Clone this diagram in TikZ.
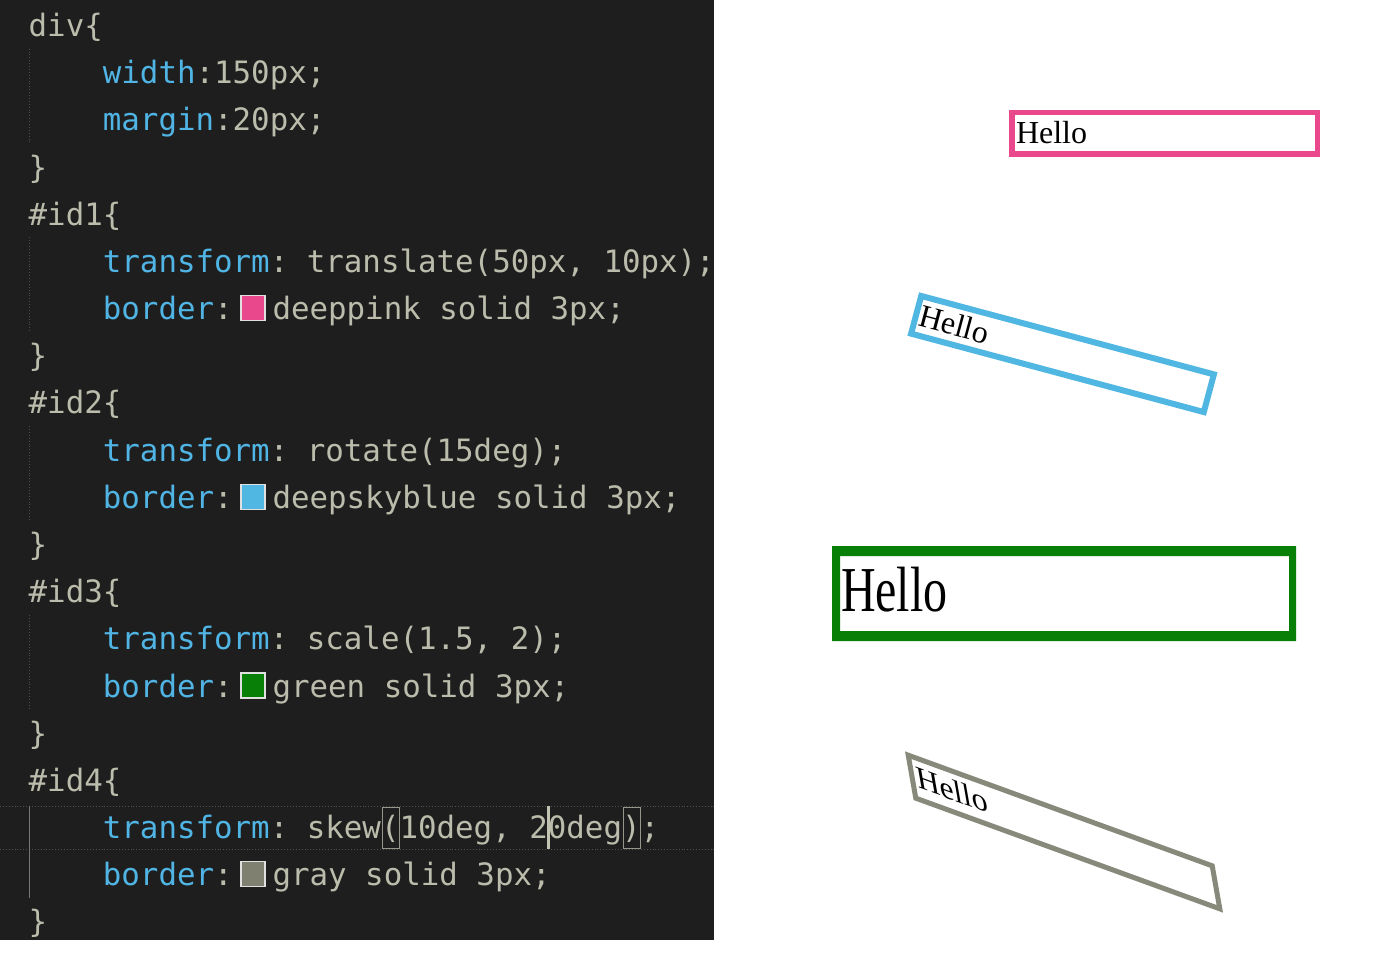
\documentclass[tikz,border=0pt]{standalone}
\usepackage{fontspec}
\setmainfont{Liberation Serif}
\newfontfamily\codefont{DejaVu Sans Mono}
\definecolor{bgdark}{RGB}{30,30,30}
\definecolor{cblue}{RGB}{80,180,228}
\definecolor{cgray}{RGB}{188,188,172}
\definecolor{cpink}{RGB}{234,72,140}
\definecolor{csky}{RGB}{80,182,226}
\definecolor{cgreen}{RGB}{8,128,8}
\definecolor{cgrayb}{RGB}{135,137,122}
\definecolor{cguide}{RGB}{80,80,80}
\definecolor{cguideact}{RGB}{120,120,115}
\definecolor{cswgray}{RGB}{128,128,112}
\tikzset{
  code/.style={anchor=base west, inner sep=0pt, outer sep=0pt,
    font=\codefont\fontsize{30.8}{36}\selectfont\frenchspacing, text=cgray},
  hello/.style={anchor=base west, inner sep=0pt, outer sep=0pt,
    font=\fontsize{32}{38}\selectfont, text=black},
  swatch/.style={draw=white!88!black, line width=1.3pt},
  guide/.style={cguide, line width=0.9pt, dotted},
  actguide/.style={cguideact, line width=1.2pt},
  hiline/.style={cguide, line width=0.9pt, dotted},
  matchbox/.style={draw=cgray!80!black, line width=1pt},
}
\newcommand{\pn}[1]{\textcolor{cblue}{#1}}
\begin{document}
\begin{tikzpicture}[x=1pt,y=-1pt]
\useasboundingbox (0,0) rectangle (1400,979);
\fill[white] (0,0) rectangle (1400,979);
% editor panel
\fill[bgdark] (0,0) rectangle (714,940);
\begin{scope}
\clip (0,0) rectangle (714,940);
% current line highlight
\draw[hiline] (0,806) -- (714,806);
\draw[hiline] (0,849) -- (714,849);
% indent guides
\draw[guide] (29.5,48.7) -- (29.5,142.9);
\draw[guide] (29.5,237.4) -- (29.5,331.6);
\draw[guide] (29.5,426.1) -- (29.5,520.3);
\draw[guide] (29.5,614.8) -- (29.5,709);
\draw[actguide] (29.5,806) -- (29.5,897.7);
% code lines
\node[code] (l0) at (28.7,36.5) {div\{};
\node[code] (l1) at (102.9,83.68) {\pn{width}:150px;};
\node[code] (l2) at (102.9,130.86) {\pn{margin}:20px;};
\node[code] (l3) at (28.7,178.04) {\}};
\node[code] (l4) at (28.7,225.22) {\#id1\{};
\node[code] (l5) at (102.9,272.4) {\pn{transform}: translate(50px, 10px);};
\node[code] (l6) at (102.9,319.58) {\pn{border}:};
\node[code] (v6) at (272.5,319.58) {deeppink solid 3px;};
\node[code] (l7) at (28.7,366.76) {\}};
\node[code] (l8) at (28.7,413.94) {\#id2\{};
\node[code] (l9) at (102.9,461.12) {\pn{transform}: rotate(15deg);};
\node[code] (l10) at (102.9,508.3) {\pn{border}:};
\node[code] (v10) at (272.5,508.3) {deepskyblue solid 3px;};
\node[code] (l11) at (28.7,555.48) {\}};
\node[code] (l12) at (28.7,602.66) {\#id3\{};
\node[code] (l13) at (102.9,649.84) {\pn{transform}: scale(1.5, 2);};
\node[code] (l14) at (102.9,697.02) {\pn{border}:};
\node[code] (v14) at (272.5,697.02) {green solid 3px;};
\node[code] (l15) at (28.7,744.2) {\}};
\node[code] (l16) at (28.7,791.38) {\#id4\{};
\node[code] (l17) at (102.9,838.56) {\pn{transform}: skew(10deg, 20deg);};
\node[code] (l18) at (102.9,885.74) {\pn{border}:};
\node[code] (v18) at (272.5,885.74) {gray solid 3px;};
\node[code] (l19) at (28.7,932.92) {\}};
% colour swatches
\filldraw[swatch, fill=cpink] (241,295.6) rectangle (265,320.6);
\filldraw[swatch, fill=csky] (241,484.3) rectangle (265,509.3);
\filldraw[swatch, fill=cgreen] (241,673) rectangle (265,698);
\filldraw[swatch, fill=cswgray] (241,861.7) rectangle (265,886.7);
% bracket match boxes and cursor
\draw[matchbox] (382.5,807) rectangle (399.5,848.5);
\draw[matchbox] (623.5,807) rectangle (640.5,848.5);
\draw[cgray!90!white, line width=2.6pt] (548.5,806) -- (548.5,849);
\end{scope}
% #id1 : translate
\draw[cpink, line width=5.5pt] (1011.75,112.75) rectangle (1317.25,154.25);
\node[hello] (h1) at (1016,143) {Hello};
% #id2 : rotate
\begin{scope}[shift={(1062.5,354)}, rotate=-15]
\draw[csky, line width=6pt] (-151.5,-19.5) -- (151.5,-19.5) -- (151.5,19.5) -- (-151.5,19.5) -- cycle;
\node[hello, transform shape] (h2) at (-147.5,10.5) {Hello};
\end{scope}
% #id3 : scale
\fill[cgreen, even odd rule] (832,546) rectangle (1296,641) (840,556) rectangle (1289,631);
\node[hello, xscale=1.5, yscale=2] (h3) at (841,611) {Hello};
% #id4 : skew
\begin{scope}[shift={(1064,832)}, cm={1,-0.36397,-0.17633,1,(0,0)}]
\draw[cgrayb, line width=5pt] (-152,-21.5) -- (152,-21.5) -- (152,21.5) -- (-152,21.5) -- cycle;
\node[hello, transform shape] (h4) at (-147.5,9.5) {Hello};
\end{scope}
\end{tikzpicture}
\end{document}
